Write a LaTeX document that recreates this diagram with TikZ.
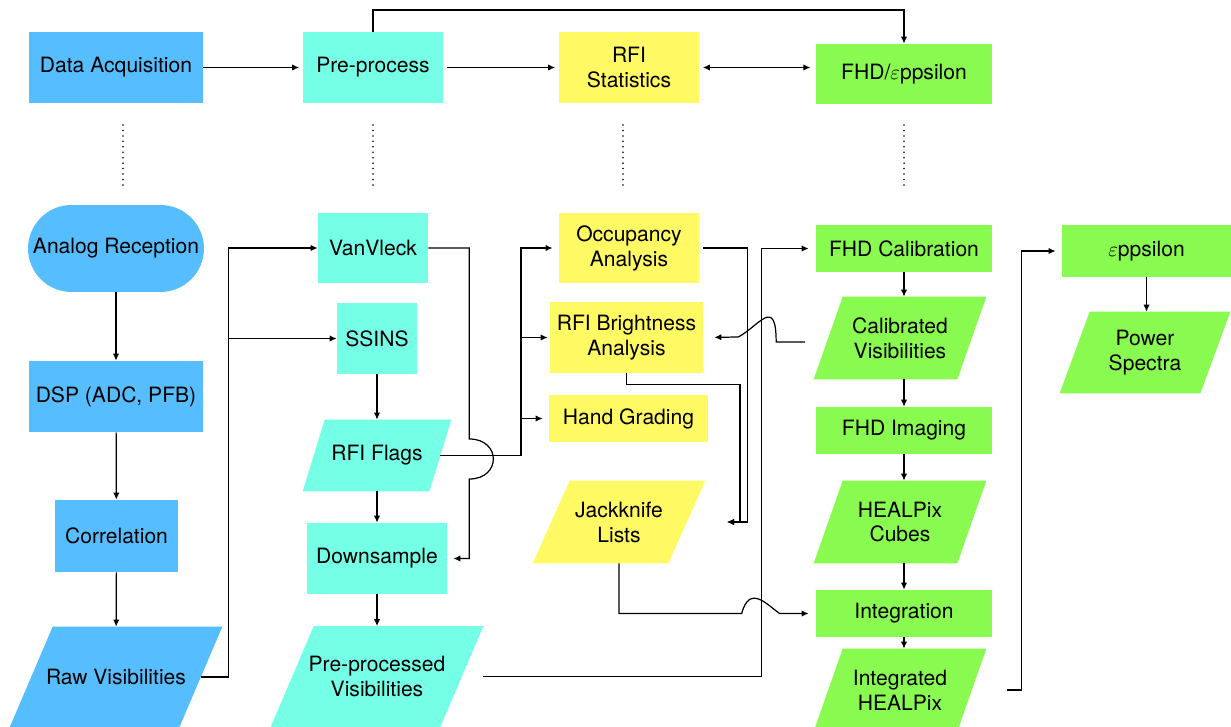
\documentclass[tikz,border=0pt]{standalone}
\usepackage{fontspec}
\setmainfont{TeX Gyre Heros}
\usepackage{tikz}
\usetikzlibrary{shapes.geometric, arrows.meta, positioning, calc, backgrounds}
\definecolor{pipeblue}{HTML}{56BEFF}
\definecolor{pipecyan}{HTML}{75FFE7}
\definecolor{pipeyellow}{HTML}{FFFA64}
\definecolor{pipegreen}{HTML}{88FA50}
\tikzset{
  flowtip/.tip={Latex[length=4pt,width=3.6pt]},
  procbox/.style={rectangle, fill=#1, align=center, inner sep=2pt},
  databox/.style={rectangle, align=center, inner sep=2pt},
  wire/.style={draw=black, line width=0.7pt},
  conn/.style={wire, -flowtip},
  dotline/.style={line width=1pt, dash pattern=on 0pt off 3.1pt, line cap=round}
}

\begin{document}
\begin{tikzpicture}[x=0.02cm, y=-0.02cm, every node/.style={font=\fontsize{12}{14.2}\selectfont}]
  \useasboundingbox (0,0) rectangle (1231,727);

  % Top row: pipeline stages
  \node[procbox=pipeblue, minimum width=3.48cm, minimum height=1.42cm] (acq) at (116,67.5) {Data Acquisition};
  \node[procbox=pipecyan, minimum width=2.80cm, minimum height=1.42cm] (prep) at (373,67.5) {Pre-process};
  \node[procbox=pipeyellow, minimum width=2.80cm, minimum height=1.42cm] (stats) at (629,67.5) {RFI\\Statistics};
  \node[procbox=pipegreen, minimum width=3.52cm, minimum height=1.20cm] (fhdeps) at (904,74) {FHD/$\varepsilon$ppsilon};
  \coordinate (toprail) at (0,10);

  % Data acquisition detail
  \node[procbox=pipeblue, rounded corners=0.87cm, minimum width=3.52cm, minimum height=1.74cm] (analog) at (116,248.5) {Analog Reception};
  \node[procbox=pipeblue, minimum width=3.48cm, minimum height=1.42cm] (dsp) at (116,396.5) {DSP (ADC, PFB)};
  \node[procbox=pipeblue, minimum width=2.46cm, minimum height=1.44cm] (corr) at (116.5,536) {Correlation};
  \node[databox, minimum width=3.38cm, minimum height=2.0cm] (rawvis) at (116,677) {Raw Visibilities};

  % Pre-processing detail
  \node[procbox=pipecyan, minimum width=2.20cm, minimum height=1.40cm] (vanvleck) at (373,248) {VanVleck};
  \node[procbox=pipecyan, minimum width=1.60cm, minimum height=1.42cm] (ssins) at (377,338.5) {SSINS};
  \node[databox, minimum width=2.52cm, minimum height=1.42cm] (flags) at (377,455.5) {RFI Flags};
  \node[procbox=pipecyan, minimum width=2.80cm, minimum height=1.42cm] (downsamp) at (377,558.5) {Downsample};
  \node[databox, minimum width=3.38cm, minimum height=2.0cm] (prepvis) at (377,676.5) {Pre-processed\\Visibilities};

  % RFI statistics detail
  \node[procbox=pipeyellow, minimum width=2.80cm, minimum height=1.40cm] (occup) at (629,248) {Occupancy\\Analysis};
  \node[procbox=pipeyellow, minimum width=3.06cm, minimum height=1.42cm] (bright) at (626.5,337.5) {RFI Brightness\\Analysis};
  \node[procbox=pipeyellow, minimum width=3.18cm, minimum height=0.94cm] (grading) at (628.5,418.5) {Hand Grading};
  \node[databox, minimum width=2.70cm, minimum height=1.64cm] (jackknife) at (619,522) {Jackknife\\Lists};
  \coordinate (jkin) at (727,522);

  % FHD detail
  \node[procbox=pipegreen, minimum width=3.52cm, minimum height=0.94cm] (fhdcal) at (904,248.5) {FHD Calibration};
  \node[databox, minimum width=2.86cm, minimum height=1.64cm] (calvis) at (900,338) {Calibrated\\Visibilities};
  \node[procbox=pipegreen, minimum width=3.52cm, minimum height=0.94cm] (fhdimg) at (904,430.5) {FHD Imaging};
  \node[databox, minimum width=2.86cm, minimum height=1.64cm] (cubes) at (900,522) {HEALPix\\Cubes};
  \node[procbox=pipegreen, minimum width=3.52cm, minimum height=0.94cm] (integ) at (904,613.5) {Integration};
  \node[databox, minimum width=2.86cm, minimum height=1.64cm] (inthpx) at (900,690) {Integrated\\HEALPix};

  % Power spectrum
  \node[procbox=pipegreen, minimum width=3.38cm, minimum height=1.04cm] (eppsilon) at (1146.5,251) {$\varepsilon$ppsilon};
  \node[databox, minimum width=2.80cm, minimum height=1.62cm] (powspec) at (1145,352.5) {Power\\Spectra};

  % Data products: slanted boxes behind the text
  \begin{scope}[on background layer]
    \foreach \n/\s/\c in {rawvis/0.43cm/pipeblue, flags/0.22cm/pipecyan, prepvis/0.43cm/pipecyan,
        jackknife/0.37cm/pipeyellow, calvis/0.29cm/pipegreen, cubes/0.29cm/pipegreen,
        inthpx/0.29cm/pipegreen, powspec/0.30cm/pipegreen}
      \fill[\c] ([xshift=\s]\n.north west) -- ([xshift=\s]\n.north east)
        -- ([xshift=-\s]\n.south east) -- ([xshift=-\s]\n.south west) -- cycle;
  \end{scope}

  % Top row connectors
  \draw[conn, shorten >=2pt] (acq) -- (prep);
  \draw[conn, shorten <=2pt, shorten >=2pt] (prep) -- (stats);
  \draw[conn] (prep.north) -- (prep.north |- toprail) -| (fhdeps.north);
  \draw[wire, flowtip-flowtip, shorten <=2pt, shorten >=3pt] (stats.east) -- (stats.east -| fhdeps.west);

  % Dotted drop lines
  \foreach \x in {123,373,623,904}
    \draw[dotline] (\x,125) -- (\x,190);

  % Acquisition chain
  \draw[conn] (analog) -- (dsp);
  \draw[conn] (dsp) -- (corr);
  \draw[conn] (corr) -- (rawvis);
  \draw[conn] (rawvis.east) -- ++(28,0) coordinate (rawbus) |- (vanvleck.west);
  \draw[conn] (rawbus |- ssins.west) -- (ssins.west);

  % Pre-processing chain
  \draw[conn, shorten >=0.12cm] (vanvleck.east) -- ++(41,0) -- ++(0,191)
    .. controls +(32,0) and +(32,0) .. ++(0,40) |- (downsamp.east);
  \draw[conn] (ssins) -- (flags);
  \draw[conn] (flags) -- (downsamp);
  \draw[conn] (downsamp) -- (prepvis);

  % Flags into the RFI analyses
  \draw[conn, line width=1pt, shorten >=0.12cm] (flags.east) -- ++(81,0) coordinate (flagbus) |- (occup.west);
  \draw[conn, shorten >=0.04cm] (flagbus |- bright.west) -- (bright.west);
  \draw[conn, shorten >=0.12cm] (flagbus |- grading.west) -- (grading.west);

  % Analyses into the jackknife lists
  \draw[conn, shorten <=0.08cm] (occup.east) -- ++(48,0) |- (jkin);
  \draw[conn] (bright.south) -- ++(0,11) -| ([xshift=0.26cm]jkin) -- (jkin);

  % Calibrated visibilities back to brightness
  \draw[conn, shorten >=0.22cm] ([shift={(-23,4)}]calvis.west) -- ++(-29,0)
    .. controls +(0,-47) and +(20,-10) .. ++(-38,-5) -- (bright.east);

  % Pre-processed visibilities into calibration
  \draw[conn, shorten >=0.14cm] ([xshift=0.43cm]prepvis.east) -- ++(278,0) |- (fhdcal.west);

  % Jackknife lists into integration
  \draw[conn, shorten >=0.14cm] (jackknife.south) |- ([xshift=-1.48cm]integ.west)
    .. controls +(8,-30) and +(-12,-8) .. ++(38,0) -- (integ.west);

  % FHD chain
  \draw[conn] (fhdcal.south) -- (fhdcal.south |- calvis.north);
  \draw[conn] (fhdimg.north |- calvis.south) -- (fhdimg.north);
  \draw[conn] (fhdimg.south) -- (fhdimg.south |- cubes.north);
  \draw[conn] (integ.north |- cubes.south) -- (integ.north);
  \draw[conn] (integ.south) -- (integ.south |- inthpx.north);

  % Integrated maps into the power spectrum
  \draw[conn, shorten >=0.12cm] ([xshift=0.71cm]inthpx.east) -- ++(14,0) |- (eppsilon.west);
  \draw[conn] (eppsilon.south) -- (eppsilon.south |- powspec.north);
\end{tikzpicture}
\end{document}
